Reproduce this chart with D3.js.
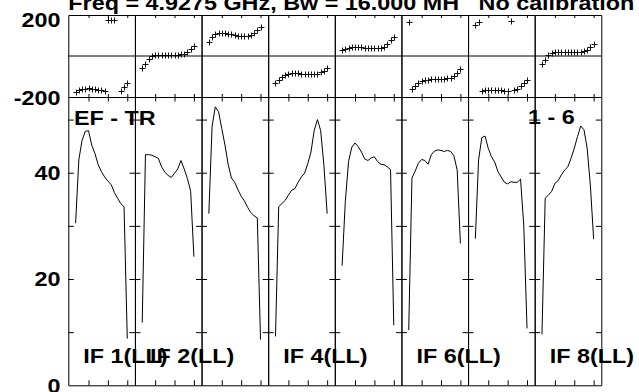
<!DOCTYPE html>
<html>
<head>
<meta charset="utf-8">
<script src="https://cdn.jsdelivr.net/npm/d3@7"></script>
<style>
  body { margin: 0; background: #fff; }
  text { font-family: "Liberation Sans", Arial, Helvetica, sans-serif; font-weight: bold; font-size: 20.5px; fill: #000; }
</style>
</head>
<body>
<div id="chart"></div>
<script>
// =====================
// DATA
// =====================
const channels = d3.range(1, 18);          // 17 channels per IF
const channelTicks = [5, 11, 17];
const ampTicks = [10, 20, 30, 40, 50];
const ampLabels = [0, 20, 40];
const phaseLabels = [200, -200];

const ifLabels = ["IF 1(LL)", "IF 2(LL)", "", "IF 4(LL)", "", "IF 6(LL)", "", "IF 8(LL)"];

const ampIF1 = [30.5, 42.4, 46.1, 47.8, 47.9, 45.2, 43.6, 41.5, 40.2, 39.2, 38.4, 37.8, 36.3, 35.2, 34.2, 33.6, 8.8];
const ampIF2 = [11.8, 43.4, 43.4, 43.3, 43.0, 42.7, 41.1, 40.1, 39.5, 39.1, 39.9, 40.7, 42.3, 40.7, 38.9, 36.5, 24.2];
const ampIF3 = [32.3, 48.7, 52.4, 51.5, 48.3, 45.2, 41.5, 39.0, 38.2, 36.8, 35.6, 34.7, 33.5, 32.5, 31.9, 31.5, 8.6];
const ampIF4 = [9.2, 33.6, 34.2, 34.8, 35.8, 36.7, 37.0, 38.2, 39.2, 39.9, 41.7, 43.9, 48.0, 50.0, 47.9, 41.4, 32.3];
const ampIF5 = [22.5, 34.6, 42.1, 44.8, 45.6, 44.9, 43.9, 42.6, 42.3, 42.8, 43.0, 42.1, 41.6, 41.5, 41.1, 40.6, 11.3];
const ampIF6 = [10.4, 39.0, 40.3, 41.8, 42.5, 42.3, 41.6, 43.4, 44.1, 44.3, 44.2, 44.0, 44.2, 44.0, 43.2, 40.5, 26.7];
const ampIF7 = [27.6, 42.4, 46.6, 46.9, 44.6, 43.0, 42.0, 40.2, 39.2, 38.2, 37.9, 38.3, 38.2, 38.2, 38.8, 30.0, 10.7];
const ampIF8 = [9.6, 35.2, 35.8, 36.5, 38.0, 38.5, 39.6, 40.5, 41.1, 42.7, 44.6, 46.8, 48.8, 48.1, 44.6, 37.5, 27.5];

const phaseIF1 = [-175, -168, -163, -160, -158, -159, -162, -165, -168, -172, 175, 175, 175, null, -170, -152, -132];
const phaseIF2 = [-60, -38, -16, -2, 4, 6, 6, 6, 5, 5, 5, 6, 8, 12, 20, 32, 50];
const phaseIF3 = [70, 92, 105, 110, 111, 110, 108, 105, 103, 100, 98, 98, 99, 102, 110, 125, 142];
const phaseIF4 = [-133, -117, -102, -92, -87, -85, -84, -85, -86, -87, -88, -88, -87, -86, -80, -72, -60];
const phaseIF5 = [28, 34, 40, 43, 45, 45, 43, 41, 40, 39, 39, 39, 40, 44, 60, 76, 92];
const phaseIF6 = [168, -160, -146, -132, -122, -117, -115, -114, -113, -113, -112, -111, -109, -105, -97, -84, -62];
const phaseIF7 = [151, 167, -170, -166, -165, -165, -166, -167, -168, -170, -172, 172, -168, -162, -146, -132, -118];
const phaseIF8 = [-39, -18, 3, 14, 19, 20, 20, 20, 19, 19, 19, 19, 20, 24, 30, 44, 57];

const amps = [ampIF1, ampIF2, ampIF3, ampIF4, ampIF5, ampIF6, ampIF7, ampIF8];
const phases = [phaseIF1, phaseIF2, phaseIF3, phaseIF4, phaseIF5, phaseIF6, phaseIF7, phaseIF8];

const titleText = "Freq = 4.9275 GHz, Bw = 16.000 MH   No calibration";
const sourceText = "EF - TR";
const baselineText = "1 - 6";

// =====================
// SVG SETUP
// =====================
const W = 639, H = 392;
const plotLeft = 68.3, plotRight = 601.3;
const phaseTop = 15, phaseBottom = 97, ampBottom = 385.3;
const stretch = 1.14;   // plot font is wider than Arial

const svg = d3.select("#chart")
  .append("svg")
  .attr("width", W)
  .attr("height", H);

svg.append("rect").attr("width", W).attr("height", H).attr("fill", "#fff");

// =====================
// SCALES
// =====================
const panel = d3.scaleBand()
  .domain(d3.range(amps.length))
  .range([plotLeft, plotRight]);

const yAmp = d3.scaleLinear().domain([0, 54.25]).range([ampBottom, phaseBottom]);
const yPh = d3.scaleLinear().domain([-200, 200]).range([phaseBottom, phaseTop]);

const line = d3.line();

// =====================
// PANELS
// =====================
amps.forEach((amp, i) => {
  const x0 = panel(i), x1 = x0 + panel.bandwidth();
  const x = d3.scaleLinear().domain([-1.26, 19.37]).range([x0, x1]);
  const g = svg.append("g");

  // amplitude frame + ticks
  g.append("g")
    .attr("transform", `translate(${x0},0)`)
    .call(d3.axisRight(yAmp).tickValues(ampTicks).tickSize(5.5).tickSizeOuter(0).tickFormat(""));
  g.append("g")
    .attr("transform", `translate(${x1},0)`)
    .call(d3.axisLeft(yAmp).tickValues(ampTicks).tickSize(5.5).tickSizeOuter(0).tickFormat(""));
  g.append("g")
    .attr("transform", `translate(0,${phaseBottom})`)
    .call(d3.axisBottom(x).tickValues(channelTicks).tickSize(4.5).tickSizeOuter(0).tickFormat(""));
  g.append("g")
    .attr("transform", `translate(0,${ampBottom})`)
    .call(d3.axisTop(x).tickValues(channelTicks).tickSize(5).tickSizeOuter(0).tickFormat(""));

  // phase frame + ticks
  g.append("g")
    .attr("transform", `translate(${x0},0)`)
    .call(d3.axisRight(yPh).tickValues([]).tickSizeOuter(0));
  g.append("g")
    .attr("transform", `translate(${x1},0)`)
    .call(d3.axisLeft(yPh).tickValues([]).tickSizeOuter(0));
  g.append("g")
    .attr("transform", `translate(0,${phaseTop})`)
    .call(d3.axisBottom(x).tickValues(channelTicks).tickSize(3).tickSizeOuter(0).tickFormat(""));
  g.append("g")
    .attr("transform", `translate(0,${phaseBottom})`)
    .call(d3.axisTop(x).tickValues(channelTicks).tickSize(3).tickSizeOuter(0).tickFormat(""));

  // amplitude line
  g.append("path")
    .attr("d", line(channels.map((c, k) => [x(c), yAmp(amp[k])])))
    .attr("fill", "none")
    .attr("stroke", "#000")
    .attr("stroke-width", 1);

  // phase crosses
  g.append("g")
    .selectAll("path")
    .data(channels.map((c, k) => ({c, p: phases[i][k]})).filter(d => d.p !== null))
    .enter()
    .append("path")
    .attr("transform", d => `translate(${Math.round(x(d.c)) + 0.5},${Math.round(yPh(d.p)) + 0.5})`)
    .attr("d", "M-3,0H3M0,-3V3")
    .attr("stroke", "#111")
    .attr("stroke-width", 1)
    .attr("fill", "none");
});

// zero phase line
svg.append("line")
  .attr("x1", plotLeft).attr("x2", plotRight)
  .attr("y1", yPh(0)).attr("y2", yPh(0))
  .attr("stroke", "#000");

// =====================
// LABELS
// =====================
function label(x, y, str, anchor) {
  return svg.append("text")
    .attr("transform", `translate(${x},${y}) scale(${stretch},1)`)
    .attr("text-anchor", anchor || "start")
    .style("white-space", "pre")
    .text(str);
}

ampLabels.forEach(v => label(60.5, yAmp(v) + 7.3, v, "end"));
label(60.5, yPh(phaseLabels[0]) + 11.5, phaseLabels[0], "end");
label(60.5, yPh(phaseLabels[1]) + 8, phaseLabels[1], "end");

label(plotLeft, 10, titleText);
label(74, 124.5, sourceText);
label(528, 124, baselineText);

ifLabels.forEach((t, i) => {
  if (t) label(panel(i) + 15, 363.3, t);
});
</script>
</body>
</html>
